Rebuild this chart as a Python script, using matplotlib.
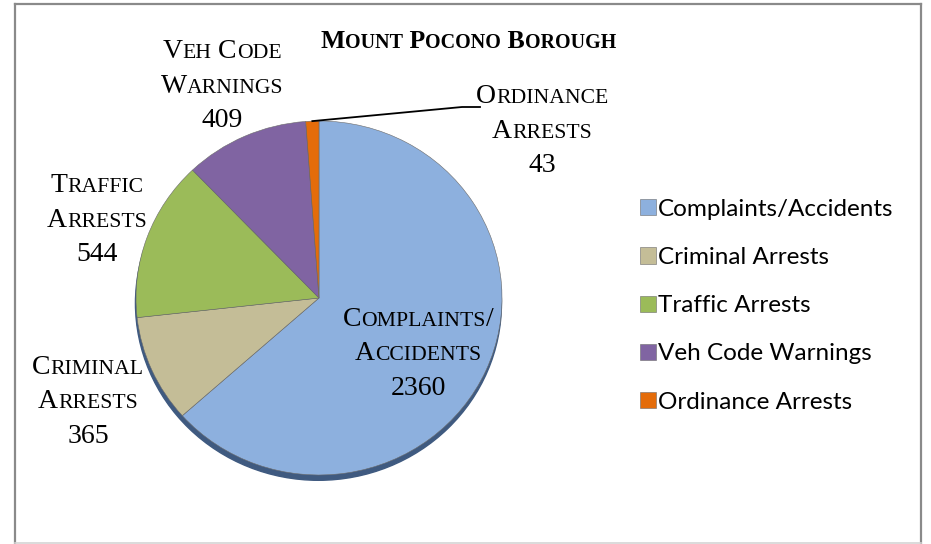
import numpy as np
import matplotlib
matplotlib.use('Agg')
import matplotlib.pyplot as plt
from matplotlib.patches import Ellipse
from matplotlib.lines import Line2D
from matplotlib.offsetbox import TextArea, HPacker, VPacker, AnnotationBbox

categories = ['Complaints/Accidents', 'Criminal Arrests', 'Traffic Arrests',
              'Veh Code Warnings', 'Ordinance Arrests']
values = [2360, 365, 544, 409, 43]
colors = ['#8DB0DE', '#C4BD97', '#9BBB59', '#8064A2', '#E46C0A']
# how each slice label is broken over lines
label_lines = [['Complaints/', 'Accidents'], ['Criminal', 'Arrests'],
               ['Traffic', 'Arrests'], ['Veh Code', 'Warnings'],
               ['Ordinance', 'Arrests']]
title = 'Mount Pocono Borough'

W, H = 931, 544
SERIF = 'Liberation Serif'


def small_caps(line, size, weight='normal'):
    # fake small caps: capitals stay full size, lower case becomes smaller capitals
    runs = []
    for ch in line:
        big = not ch.islower()
        if runs and runs[-1][1] == big:
            runs[-1][0] += ch
        else:
            runs.append([ch, big])
    boxes = [TextArea(t.upper(), textprops=dict(family=SERIF, weight=weight,
                                                 fontsize=size if big else size * 0.78,
                                                 color='black'))
             for t, big in runs]
    return HPacker(children=boxes, align='baseline', pad=0, sep=0)


def place(fig, box, x, y):
    ab = AnnotationBbox(box, (x, H - y), xycoords='figure pixels', frameon=False,
                        box_alignment=(0.5, 0.5), pad=0)
    fig.add_artist(ab)


fig = plt.figure(figsize=(W / 100, H / 100), dpi=100)

# pie axes, slightly squashed vertically
cx, cy, rx, ry = 319, 298, 183, 177
ax = fig.add_axes([(cx - rx) / W, (H - cy - ry) / H, 2 * rx / W, 2 * ry / H])
ax.add_patch(Ellipse((-0.003, -0.03), 2, 2, color='#3F5A80', zorder=0, clip_on=False))
wedges, _ = ax.pie(values, colors=colors, startangle=90, counterclock=False,
                   wedgeprops=dict(edgecolor='#6b6b6b', linewidth=0.4))
ax.set_aspect('auto')
ax.set_xlim(-1, 1)
ax.set_ylim(-1, 1)
ax.axis('off')

# slice labels
label_pos = [(418, 354), (88, 402), (97, 220), (222, 86), (542, 131)]
for lines, v, (x, y) in zip(label_lines, values, label_pos):
    rows = [small_caps(s, 20) for s in lines] + [small_caps(str(v), 20)]
    place(fig, VPacker(children=rows, align='center', pad=0, sep=7), x, y)

# leader line for the small ordinance slice
w = wedges[4]
mid = np.deg2rad((w.theta1 + w.theta2) / 2)
to_data = ax.transData.inverted()
bend = to_data.transform((462, H - 107))
end = to_data.transform((480, H - 107))
ax.add_line(Line2D([np.cos(mid), bend[0], end[0]], [np.sin(mid), bend[1], end[1]],
                   color='black', lw=1.3, clip_on=False))

# title
place(fig, small_caps(title, 18.5, weight='bold'), 468, 42)

# legend
fig.legend(wedges, categories, loc='upper left', bbox_to_anchor=(630 / W, (H - 189) / H),
           frameon=False, prop=dict(family='Lato', size=17.5), handlelength=0.65,
           handleheight=0.65, handletextpad=0.1, labelspacing=1.12, borderaxespad=0)

# chart border
border = '#8a8a8a'
fig.add_artist(Line2D([15 / W, 15 / W], [0, (H - 4) / H], color=border, lw=1.6))
fig.add_artist(Line2D([15 / W, 921 / W], [(H - 4) / H, (H - 4) / H], color=border, lw=1.6))
fig.add_artist(Line2D([921 / W, 921 / W], [0, (H - 4) / H], color=border, lw=1.6))
fig.add_artist(Line2D([15 / W, 921 / W], [1.5 / H, 1.5 / H], color='#d4d4d4', lw=1.2))

fig.savefig('out.png', dpi=100)
